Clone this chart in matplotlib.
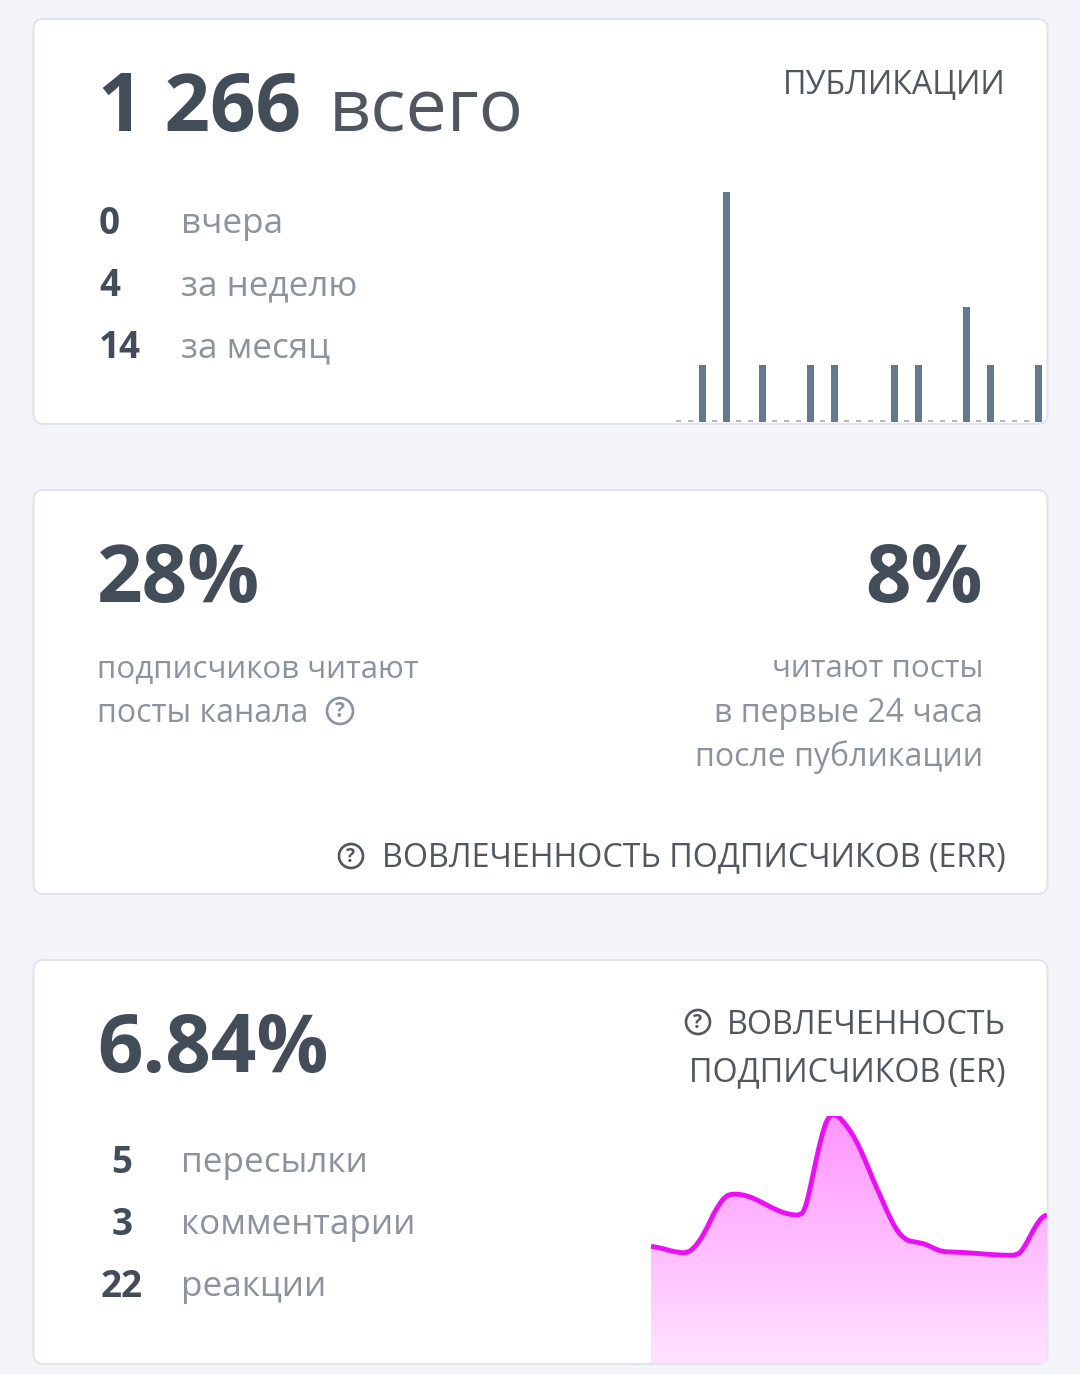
# %%
import numpy as np
import matplotlib
matplotlib.use("Agg")
import matplotlib.pyplot as plt
from matplotlib.colors import LinearSegmentedColormap
from matplotlib.patches import Circle, FancyBboxPatch, PathPatch
from matplotlib.path import Path

plt.rcParams["font.family"] = ["Open Sans", "DejaVu Sans"]

# Data
posts_per_day = [0, 0, 1, 0, 4, 0, 0, 1, 0, 0, 0, 1, 0, 1, 0, 0, 0, 0, 1, 0, 1, 0, 0, 0, 2, 0, 1, 0, 0, 0, 1]
posts_stats = ["0", "4", "14"]
posts_labels = ["вчера", "за неделю", "за месяц"]
err_left = ["подписчиков читают", "посты канала"]
err_right = ["читают посты", "в первые 24 часа", "после публикации"]
er_stats = ["5", "3", "22"]
er_labels = ["пересылки", "комментарии", "реакции"]

er_x = [0, 9, 19, 29, 36, 42, 49, 56, 62, 69, 74, 79, 86, 94, 102, 112, 122, 132, 142, 149,
        153, 157, 162, 167, 172, 176, 180, 186, 192, 199, 206, 214, 222, 231, 239, 247, 254,
        259, 267, 276, 284, 292, 302, 316, 329, 342, 356, 366, 372, 379, 386, 391, 396]
er_y = [116.7, 115.3, 112.3, 110.3, 110.3, 114, 122.7, 135, 148.3, 160, 166, 168.7, 169, 167.7,
        165, 160, 154.7, 150.3, 148, 148, 151.7, 165, 188.3, 211.7, 231.7, 243.3, 248, 248,
        241.7, 232.7, 220.7, 203.3, 183.3, 163.3, 145, 130.7, 124, 121.7, 120.7, 118.3, 114,
        111.3, 111, 110.3, 109.3, 108.3, 107.7, 107.7, 113.3, 126.7, 139.3, 145.7, 148.3]

W, H = 1080, 1374
DARK = "#434C59"
GRAY = "#8B939F"
LABEL = "#50575F"


# Axes placed by pixel box of the reference
def pixel_axes(fig, left, top, right, bottom):
    ax = fig.add_axes([left / W, 1 - bottom / H, (right - left) / W, (bottom - top) / H])
    ax.axis("off")
    return ax


def card(ax, top, bottom):
    ax.add_patch(FancyBboxPatch((33.5, top), 1014, bottom - top, boxstyle="round,pad=0,rounding_size=10",
                                facecolor="white", edgecolor="#E1E5EB", linewidth=1.5))


def help_icon(ax, x, y, r, color):
    ax.add_patch(Circle((x, y), r, facecolor="none", edgecolor=color, linewidth=1.9))
    ax.text(x, y + 0.5, "?", color=color, fontsize=r * 1.15, fontweight="bold", ha="center", va="center")


def big(ax, x, y, s, ha="left"):
    ax.text(x, y, s, color=DARK, fontsize=57.5, fontweight="bold", ha=ha, va="baseline")


def title(ax, y, s):
    ax.text(1006, y, s, color=LABEL, fontsize=23.2, ha="right", va="baseline")


def body(ax, x, y, s, ha="left", size=23):
    ax.text(x, y, s, color=GRAY, fontsize=size, ha=ha, va="baseline")


def stat(ax, x, y, s, ha="left"):
    ax.text(x, y, s, color=DARK, fontsize=26.5, fontweight="bold", ha=ha, va="baseline")


# Smooth outline through the read points
def smooth_path(xs, ys):
    pts = np.column_stack([xs, ys])
    verts = [pts[0]]
    codes = [Path.MOVETO]
    for i in range(1, len(pts) - 1):
        verts += [pts[i], (pts[i] + pts[i + 1]) / 2]
        codes += [Path.CURVE3, Path.CURVE3]
    verts.append(pts[-1])
    codes.append(Path.LINETO)
    return verts, codes


fig = plt.figure(figsize=(W / 100, H / 100), dpi=100, facecolor="#F3F5FA")

# Background layer in pixels
bg = pixel_axes(fig, 0, 0, W, H)
bg.set_xlim(0, W)
bg.set_ylim(H, 0)
card(bg, 19, 424)
card(bg, 490, 894)
card(bg, 960, 1364)

# Card 1
big(bg, 98, 131, "1 266")
bg.text(329, 131, "всего", color=LABEL, fontsize=53, va="baseline")
title(bg, 94, "ПУБЛИКАЦИИ")
for i in range(3):
    stat(bg, 99, 234 + 62 * i, posts_stats[i])
    bg.text(181, 233 + 62 * i, posts_labels[i], color=GRAY, fontsize=25.2, va="baseline")

# Card 2
big(bg, 97, 602, "28%")
big(bg, 983, 602, "8%", ha="right")
body(bg, 97, 677, err_left[0], size=22.5)
body(bg, 97, 722, err_left[1])
body(bg, 983, 677, err_right[0], ha="right", size=22.5)
body(bg, 983, 722, err_right[1], ha="right")
body(bg, 983, 766, err_right[2], ha="right")
help_icon(bg, 340, 711, 13, GRAY)
help_icon(bg, 351, 856, 12, LABEL)
title(bg, 866, "ВОВЛЕЧЕННОСТЬ ПОДПИСЧИКОВ (ERR)")

# Card 3
big(bg, 97, 1072, "6.84%")
title(bg, 1034, "ВОВЛЕЧЕННОСТЬ")
title(bg, 1081, "ПОДПИСЧИКОВ (ER)")
help_icon(bg, 698, 1022, 12, LABEL)
for i in range(3):
    stat(bg, 122, 1173 + 62 * i, er_stats[i], ha="center")
    bg.text(181, 1172 + 62 * i, er_labels[i], color=GRAY, fontsize=25.2, va="baseline")

# Posts per day bars
ax_bar = pixel_axes(fig, 672.3, 191.7, 1044.3, 422.5)
days = np.arange(len(posts_per_day))
posts = np.array(posts_per_day)
ax_bar.set_xlim(-0.5, 30.5)
ax_bar.set_ylim(0, 4)
ax_bar.bar(days[posts > 0], posts[posts > 0], width=0.6, color="#64798F")
ax_bar.bar(days[posts == 0], 0.035, width=0.4, color="#B4BAC3")

# Engagement area with a vertical gradient
ax_er = pixel_axes(fig, 651, 1116, 1047, 1363)
ax_er.set_xlim(0, 396)
ax_er.set_ylim(0, 247)
cmap = LinearSegmentedColormap.from_list("er", ["#FFE2FF", "#FF96FE"])
grad = ax_er.imshow(np.linspace(0, 1, 256).reshape(-1, 1), cmap=cmap, origin="lower", aspect="auto",
                    extent=(0, 396, 0, 247), zorder=1)
verts, codes = smooth_path(er_x, er_y)
area_verts = verts + [(396, 0), (0, 0), (0, er_y[0])]
area_codes = codes + [Path.LINETO, Path.LINETO, Path.CLOSEPOLY]
area = PathPatch(Path(area_verts, area_codes), transform=ax_er.transData, facecolor="none", edgecolor="none")
ax_er.add_patch(area)
grad.set_clip_path(area)
ax_er.add_patch(PathPatch(Path(verts, codes), facecolor="none", edgecolor="#EC0EF4", linewidth=3.5, zorder=2))

fig.savefig("out.png", dpi=100, facecolor=fig.get_facecolor())
